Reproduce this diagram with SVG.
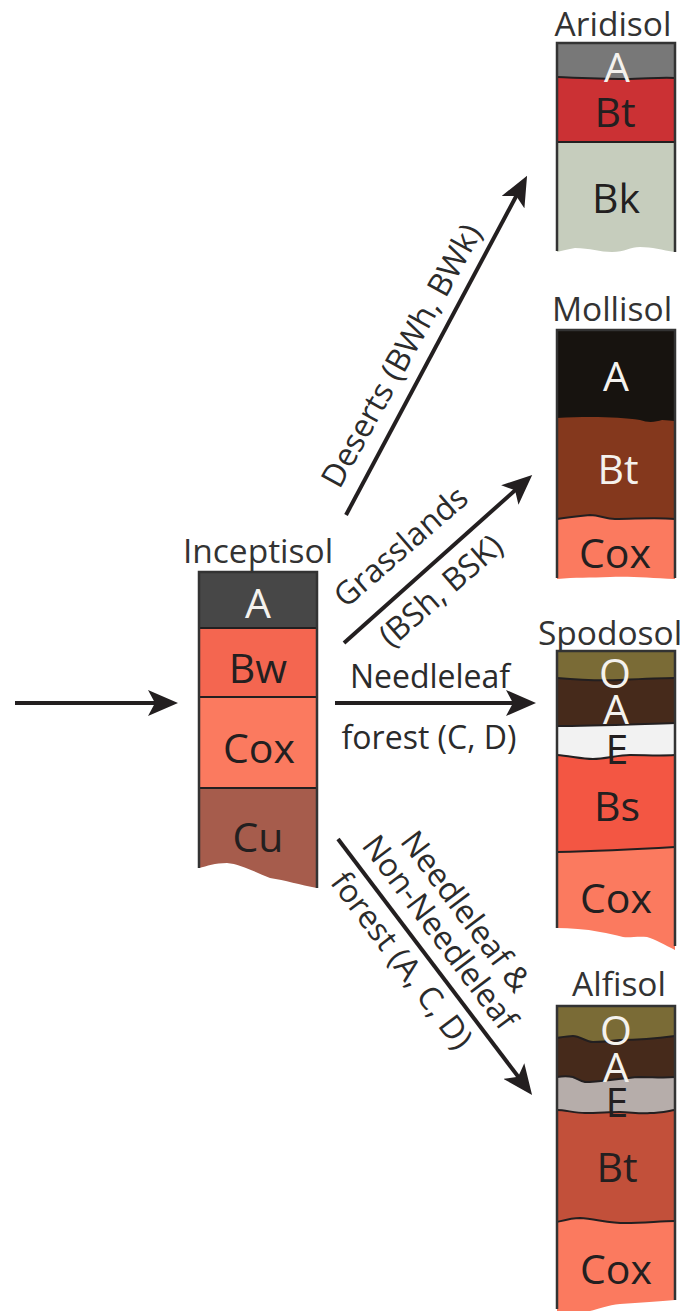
<svg xmlns="http://www.w3.org/2000/svg" width="685" height="1311" viewBox="0 0 685 1311">
<style>
text{font-family:"Open Sans","Noto Sans",sans-serif;fill:#231f20;text-anchor:middle}
.t{font-size:33.5px;fill:#333}
.h{font-size:41px}
text.w{fill:#f4f2ee}
.l{font-size:32px;fill:#2b2b2b}
.b{stroke:#231f20;stroke-width:2;fill:none}
.s{stroke:#333;stroke-width:2.5;fill:none}
.c{stroke:#231f20;stroke-width:4;fill:none}
.a{fill:#231f20}
</style>
<defs>
<marker id="arrow" viewBox="0 0 30 26" refX="15" refY="13" markerWidth="30" markerHeight="26" markerUnits="userSpaceOnUse" orient="auto"><path class="a" d="M0 0L30 13L0 26L7 13Z"/></marker>
</defs>
<g id="connectors">
<path class="c" d="M15 703H163" marker-end="url(#arrow)"/>
<path class="c" d="M346 515L520 189" marker-end="url(#arrow)"/>
<path class="c" d="M344 643L521 485" marker-end="url(#arrow)"/>
<path class="c" d="M335 703H521" marker-end="url(#arrow)"/>
<path class="c" d="M338 839L523 1083" marker-end="url(#arrow)"/>
</g>
<g id="label-deserts"><text class="l" transform="translate(411 361) rotate(-61)">Deserts (BWh, BWk)</text></g>
<g id="label-grasslands"><text class="l" transform="translate(408 555) rotate(-41)">Grasslands</text><text class="l" transform="translate(448 599) rotate(-41)">(BSh, BSK)</text></g>
<g id="label-needleleaf"><text class="l" x="430" y="688">Needleleaf</text><text class="l" x="429" y="749">forest (C, D)</text></g>
<g id="label-forest"><text class="l" transform="translate(457 918) rotate(53)">Needleleaf &amp;</text><text class="l" transform="translate(431 939) rotate(53)">Non-Needleleaf</text><text class="l" transform="translate(393 967) rotate(53)">forest (A, C, D)</text></g>

<g id="inceptisol">
<text class="t" x="258" y="563">Inceptisol</text>
<path fill="#474747" d="M199 572H317V630H199Z"/>
<path fill="#f46650" d="M199 628H317V700H199Z"/>
<path fill="#fb7a5f" d="M199 697H317V790H199Z"/>
<path fill="#a65c4c" d="M199 788H317V888C300 885 285 880 270 878C255 872 240 864 227 863C215 863 207 866 199 868Z"/>
<path class="b" d="M199 628H317M199 697H317M199 788H317"/>
<path class="s" d="M199 868V572H317V888"/>
<text class="h w" x="258" y="618">A</text>
<text class="h" x="258" y="683">Bw</text>
<text class="h" x="259" y="763">Cox</text>
<text class="h" x="258" y="852">Cu</text>
</g>

<g id="aridisol">
<text class="t" x="613" y="36">Aridisol</text>
<path fill="#787878" d="M557 43H675V82H557Z"/>
<path fill="#cb3134" d="M557 77C580 78 600 79 625 79C645 79 660 77 675 78V145H557Z"/>
<path fill="#c6cdbd" d="M557 142H675V252C662 250 652 247 640 247C630 247 625 252 612 252C600 252 590 248 575 248C568 249 562 251 557 252Z"/>
<path class="b" d="M557 77C580 78 600 79 625 79C645 79 660 77 675 78M557 142H675"/>
<path class="s" d="M557 251V43H675V252"/>
<text class="h w" x="617" y="82">A</text>
<text class="h" x="615" y="127">Bt</text>
<text class="h" x="616" y="213">Bk</text>
</g>

<g id="mollisol">
<text class="t" x="612" y="321">Mollisol</text>
<path fill="#17130f" d="M557 330H675V425H557Z"/>
<path fill="#84381d" d="M557 418C590 416 620 417 640 420C648 423 656 422 662 420C667 420 671 421 675 421V525H557Z"/>
<path fill="#fb7a5f" d="M557 519C570 517 580 516 590 515C600 515 605 519 615 519C635 519 655 517 675 519V579C650 578 630 576 610 577C590 578 575 577 557 579Z"/>
<path class="b" d="M557 519C570 517 580 516 590 515C600 515 605 519 615 519C635 519 655 517 675 519"/>
<path class="s" d="M557 578V330H675V578"/>
<text class="h w" x="616" y="391">A</text>
<text class="h w" x="618" y="484">Bt</text>
<text class="h" x="615" y="568">Cox</text>
</g>

<g id="spodosol">
<text class="t" x="610" y="645">Spodosol</text>
<path fill="#7a6b36" d="M557 651H675V685H557Z"/>
<path fill="#462a1b" d="M557 678C580 680 600 681 620 680C640 679 660 678 675 678V730H557Z"/>
<path fill="#f2f2f2" d="M557 726C590 726 640 724 675 723V760H557Z"/>
<path fill="#f35643" d="M557 755C570 756 582 759 593 759C605 759 618 755 630 755C645 755 660 756 675 755V855H557Z"/>
<path fill="#fb7a5f" d="M557 852C600 851 640 849 675 847V950C665 945 655 939 647 937C637 936 630 938 623 937C615 935 608 933 600 932C585 929 570 928 557 928Z"/>
<path class="b" d="M557 678C580 680 600 681 620 680C640 679 660 678 675 678M557 726C590 726 640 724 675 723M557 755C570 756 582 759 593 759C605 759 618 755 630 755C645 755 660 756 675 755M557 852C600 851 640 849 675 847"/>
<path class="s" d="M557 928V651H675V946"/>
<text class="h w" x="615" y="688">O</text>
<text class="h w" x="616" y="724">A</text>
<text class="h" x="617" y="764">E</text>
<text class="h" x="617" y="821">Bs</text>
<text class="h" x="616" y="913">Cox</text>
</g>

<g id="alfisol">
<text class="t" x="619" y="996">Alfisol</text>
<path fill="#7a6b36" d="M557 1006H675V1045H557Z"/>
<path fill="#462a1b" d="M557 1038C563 1037 568 1036 573 1036C580 1036 586 1042 593 1042C603 1042 612 1041 620 1040C640 1040 660 1038 675 1036V1085H557Z"/>
<path fill="#b6adaa" d="M557 1077C563 1076 568 1076 573 1077C577 1079 580 1081 585 1082C600 1082 620 1078 640 1077C652 1077 664 1078 675 1077V1115H557Z"/>
<path fill="#c2503a" d="M557 1110C565 1110 575 1113 585 1113C597 1113 610 1112 620 1112C630 1112 640 1114 650 1113C660 1113 668 1111 675 1110V1226H557Z"/>
<path fill="#fb7a5f" d="M557 1222C565 1220 572 1218 580 1218C595 1219 610 1223 625 1223C645 1223 660 1221 675 1221V1300C660 1301 640 1303 620 1304C608 1305 598 1309 590 1311H557Z"/>
<path class="b" d="M557 1038C563 1037 568 1036 573 1036C580 1036 586 1042 593 1042C603 1042 612 1041 620 1040C640 1040 660 1038 675 1036M557 1077C563 1076 568 1076 573 1077C577 1079 580 1081 585 1082C600 1082 620 1078 640 1077C652 1077 664 1078 675 1077M557 1110C565 1110 575 1113 585 1113C597 1113 610 1112 620 1112C630 1112 640 1114 650 1113C660 1113 668 1111 675 1110M557 1222C565 1220 572 1218 580 1218C595 1219 610 1223 625 1223C645 1223 660 1221 675 1221"/>
<path class="s" d="M557 1309V1006H675V1300"/>
<text class="h w" x="616" y="1045">O</text>
<text class="h w" x="616" y="1082">A</text>
<text class="h" x="617" y="1117">E</text>
<text class="h" x="617" y="1182">Bt</text>
<text class="h" x="616" y="1284">Cox</text>
</g>
</svg>
